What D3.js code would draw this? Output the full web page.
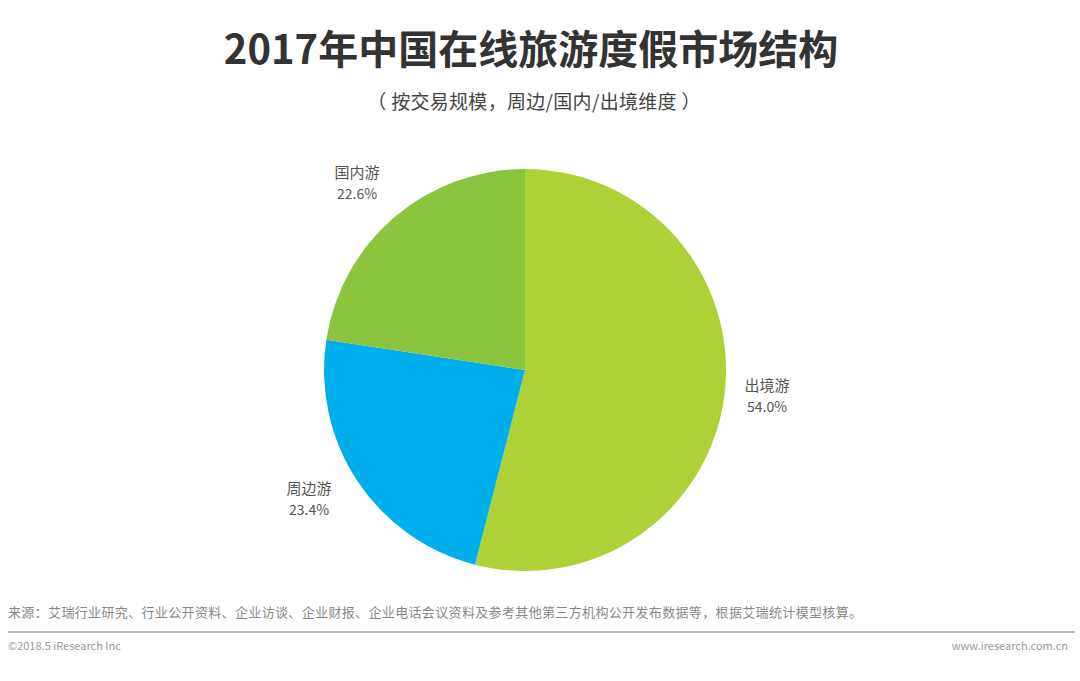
<!doctype html>
<html>
<head>
  <meta charset="utf-8">
  <script src="https://cdnjs.cloudflare.com/ajax/libs/d3/7.8.5/d3.min.js"></script>
  <style>
    body { margin: 0; background: #fff; }
    text { font-family: "Noto Sans CJK SC", "Noto Sans", sans-serif; }
  </style>
</head>
<body>
  <svg id="chart" width="1080" height="681"></svg>
  <script>
    // data
    var categories = ["出境游", "周边游", "国内游"];
    var shares = [54.0, 23.4, 22.6];
    var colors = ["#add136", "#00aeec", "#8cc43f"];
    // label anchor positions (x, y of first line)
    var labelPos = [[767, 391], [309, 494], [357, 178]];

    var svg = d3.select("#chart");
    var cx = 525, cy = 370, r = 201;

    svg.append("text").attr("x", 531).attr("y", 64)
      .attr("text-anchor", "middle").attr("font-size", 40).attr("font-weight", "bold")
      .attr("fill", "#333").text("2017年中国在线旅游度假市场结构");
    svg.append("text").attr("x", 534).attr("y", 109)
      .attr("text-anchor", "middle").attr("font-size", 19).attr("letter-spacing", 0.3)
      .attr("fill", "#444").text("（ 按交易规模，周边/国内/出境维度 ）");

    var pie = d3.pie().sort(null).value(d => d);
    var arc = d3.arc().innerRadius(0).outerRadius(r);
    var g = svg.append("g").attr("transform", "translate(" + cx + "," + cy + ")");
    g.selectAll("path").data(pie(shares)).enter().append("path")
      .attr("d", arc)
      .attr("fill", (d, i) => colors[i]);

    var labels = svg.selectAll("g.lbl").data(categories).enter().append("g")
      .attr("class", "lbl")
      .attr("transform", (d, i) => "translate(" + labelPos[i][0] + "," + labelPos[i][1] + ")");
    labels.append("text").attr("text-anchor", "middle").attr("font-size", 15)
      .attr("fill", "#555").text(d => d);
    labels.append("text").attr("y", 21).attr("text-anchor", "middle").attr("font-size", 14)
      .attr("fill", "#555").text((d, i) => shares[i].toFixed(1) + "%");

    svg.append("text").attr("x", 8).attr("y", 617).attr("font-size", 13).attr("letter-spacing", 0.35)
      .attr("fill", "#888")
      .text("来源：艾瑞行业研究、行业公开资料、企业访谈、企业财报、企业电话会议资料及参考其他第三方机构公开发布数据等，根据艾瑞统计模型核算。");
    svg.append("line").attr("x1", 8).attr("x2", 1075).attr("y1", 632).attr("y2", 632)
      .attr("stroke", "#777").attr("stroke-width", 1.2);
    svg.append("text").attr("x", 8).attr("y", 650).attr("font-size", 11).attr("fill", "#999")
      .text("©2018.5 iResearch Inc");
    svg.append("text").attr("x", 1068).attr("y", 650).attr("text-anchor", "end")
      .attr("font-size", 11).attr("fill", "#999").text("www.iresearch.com.cn");
  </script>
</body>
</html>
